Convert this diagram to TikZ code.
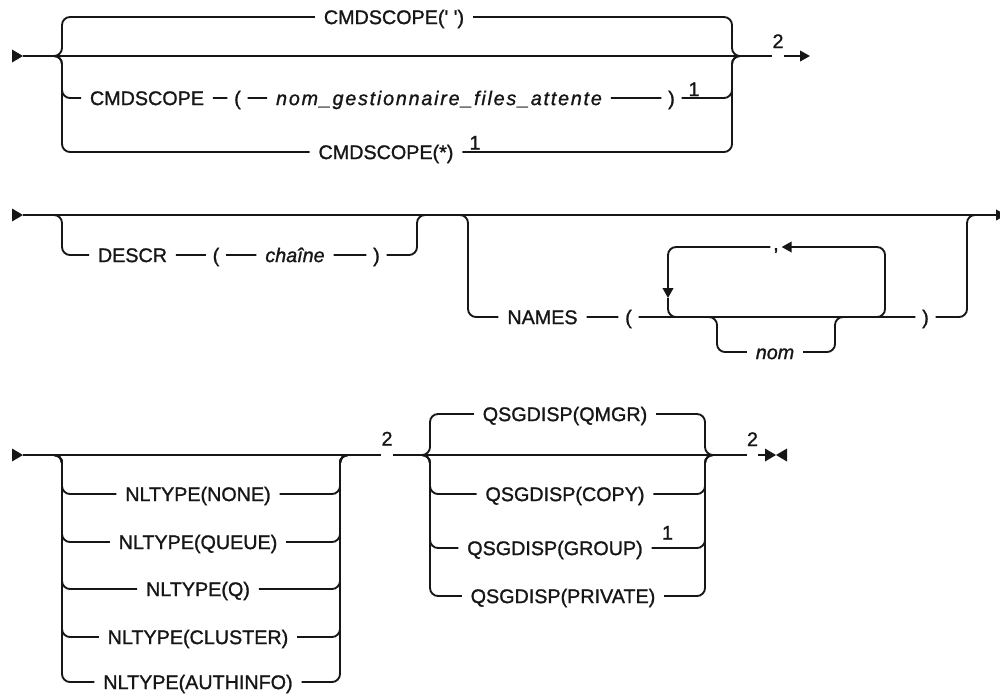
\documentclass[tikz,border=0pt]{standalone}
\usepackage{fontspec}
\setmainfont{Liberation Sans}[FakeBold=1.2]
\usetikzlibrary{arrows.meta,positioning,calc}
\definecolor{ink}{RGB}{22,22,22}
\tikzset{
  >={Triangle[length=7.5pt,width=8pt]},
  rail/.style={draw=ink,line width=1.4pt,rounded corners=6pt},
  kw/.style={font=\fontsize{14.8}{17}\selectfont,text=ink,inner xsep=6.5pt,inner ysep=0pt,
    text height=10.6pt,text depth=0pt},
  var/.style={kw,font=\fontsize{14.8}{17}\selectfont\itshape},
  paren/.style={kw,inner xsep=5pt},
  sep/.style={kw,inner xsep=2pt,text height=5pt},
  fnote/.style={kw,inner xsep=0pt},
  % start and end marks of a syntax line
  pics/startmark/.style={code={
    \fill[ink] (0,-6.5) -- (11,0) -- (0,6.5) -- cycle;
  }},
  pics/stopmark/.style={code={
    \fill[ink] (-11,-6.5) -- (0,0) -- (-11,6.5) -- cycle;
    \fill[ink] (11,-6.5) -- (0,0) -- (11,6.5) -- cycle;
  }},
}

\begin{document}
\begin{tikzpicture}[x=0.75pt,y=-0.75pt]
  \useasboundingbox (0,0) rectangle (1000,694);

  % CMDSCOPE
  \pic at (12,56) {startmark};
  \coordinate (a0) at (23,56);
  \coordinate (aL) at (54,56);   \coordinate (aLv) at (62,56);
  \coordinate (aRv) at (732,56); \coordinate (aR) at (740,56);
  \coordinate (aEnd) at (810,56);
  \node[kw] (cs0) at (394,17) {CMDSCOPE(\textquotesingle{} \textquotesingle)};
  \node[kw] (cs1) at (147,98) {CMDSCOPE};
  \node[paren] (cs1o) at (237.5,98) {(};
  \node[var] (qmgr) at (439,98) {\addfontfeature{LetterSpace=9}nom\_gestionnaire\_files\_attente};
  \node[paren] (cs1c) at (671.5,98) {)};
  \node[fnote] (n1a) at (694,89) {1};
  \node[kw] (cs2) at (386,152) {CMDSCOPE(*)};
  \node[fnote] (n1b) at (475,142.5) {1};
  \node[fnote] (n2a) at (778,41) {2};

  \draw[rail] (a0) -- (aR) -- (aR -| n2a.west);
  \draw[rail,->] (aR -| n2a.east) -- (aEnd);
  \draw[rail] (aL) -- (aLv) |- (cs0.west) (cs0.east) -| (aRv) -- (aR);
  \draw[rail] (aL) -- (aLv) |- (cs1.west);
  \draw[rail] (cs1.east) -- (cs1o.west) (cs1o.east) -- (qmgr.west)
    (qmgr.east) -- (cs1c.west) (cs1c.east) -| (aRv) -- (aR);
  \draw[rail] (aL) -- (aLv) |- (cs2.west) (cs2.east) -| (aRv) -- (aR);

  % DESCR and NAMES
  \pic at (12,215) {startmark};
  \coordinate (b0) at (23,215);
  \coordinate (bEnd) at (1006,215);
  \coordinate (dL) at (54,215);   \coordinate (dLv) at (62,215);
  \coordinate (dRv) at (417,215); \coordinate (dR) at (425,215);
  \node[kw] (descr) at (132.5,255) {DESCR};
  \node[paren] (dOpen) at (216,255) {(};
  \node[var] (chaine) at (295,255) {chaîne};
  \node[paren] (dClose) at (376.5,255) {)};

  \draw[rail,->] (b0) -- (bEnd);
  \draw[rail] (dL) -- (dLv) |- (descr.west) (descr.east) -- (dOpen.west)
    (dOpen.east) -- (chaine.west) (chaine.east) -- (dClose.west)
    (dClose.east) -| (dRv) -- (dR);

  \coordinate (nL) at (460,215);  \coordinate (nLv) at (468,215);
  \coordinate (nRv) at (967,215); \coordinate (nR) at (975,215);
  \node[kw] (names) at (542.5,317) {NAMES};
  \node[paren] (nOpen) at (628.5,317) {(};
  \node[paren] (nClose) at (925.5,317) {)};
  \node[sep] (comma) at (776,247) {,};
  \node[var] (nom) at (775,352) {nom};
  \coordinate (lpL) at (668,298);  \coordinate (lpLb) at (683,317);
  \coordinate (lpR) at (870,317);  \coordinate (lpRv) at (885,317);
  \coordinate (oL) at (709,317);   \coordinate (oLv) at (717,317);
  \coordinate (oRv) at (835,317);  \coordinate (oR) at (843,317);

  \draw[rail] (nL) -- (nLv) |- (names.west) (names.east) -- (nOpen.west)
    (nOpen.east) -- (nClose.west) (nClose.east) -| (nRv) -- (nR);
  \draw[rail] (oL) -- (oLv) |- (nom.west) (nom.east) -| (oRv) -- (oR);
  \draw[rail,->] (lpR) -- (lpRv) |- (comma.east);
  \draw[rail,->] (comma.west) -| (lpL);
  \draw[rail] (lpL) |- (lpLb);

  % NLTYPE and QSGDISP
  \pic at (12,455) {startmark};
  \coordinate (c0) at (23,455);
  \coordinate (tL) at (54,455);   \coordinate (tLv) at (62,455);
  \coordinate (tRv) at (340,455); \coordinate (tR) at (348,455);
  \coordinate (qL) at (422,455);  \coordinate (qLv) at (430,455);
  \coordinate (qRv) at (705,455); \coordinate (qR) at (713,455);
  \coordinate (stop) at (765,455);
  \node[fnote] (n2b) at (387,438.5) {2};
  \node[fnote] (n2c) at (752.5,439) {2};
  \node[fnote] (n1c) at (667.5,532.5) {1};

  \foreach \t/\y [count=\i] in {NONE/494,QUEUE/542,Q/589,CLUSTER/637,AUTHINFO/682}{
    \node[kw] (nl\i) at (198,\y) {NLTYPE(\t)};
    \draw[rail] (tL) -- (tLv) |- (nl\i.west) (nl\i.east) -| (tRv) -- (tR);
  }
  \foreach \t/\x/\y [count=\i] in {QMGR/565/414,COPY/565/494,GROUP/555/548,PRIVATE/563/596}{
    \node[kw] (qs\i) at (\x,\y) {QSGDISP(\t)};
    \draw[rail] (qL) -- (qLv) |- (qs\i.west) (qs\i.east) -| (qRv) -- (qR);
  }

  \draw[rail] (c0) -- (tR) -- (tR -| n2b.west) (tR -| n2b.east) -- (qR)
    -- (qR -| n2c.west) (qR -| n2c.east) -- (stop);
  \pic at (776,455) {stopmark};
\end{tikzpicture}
\end{document}
